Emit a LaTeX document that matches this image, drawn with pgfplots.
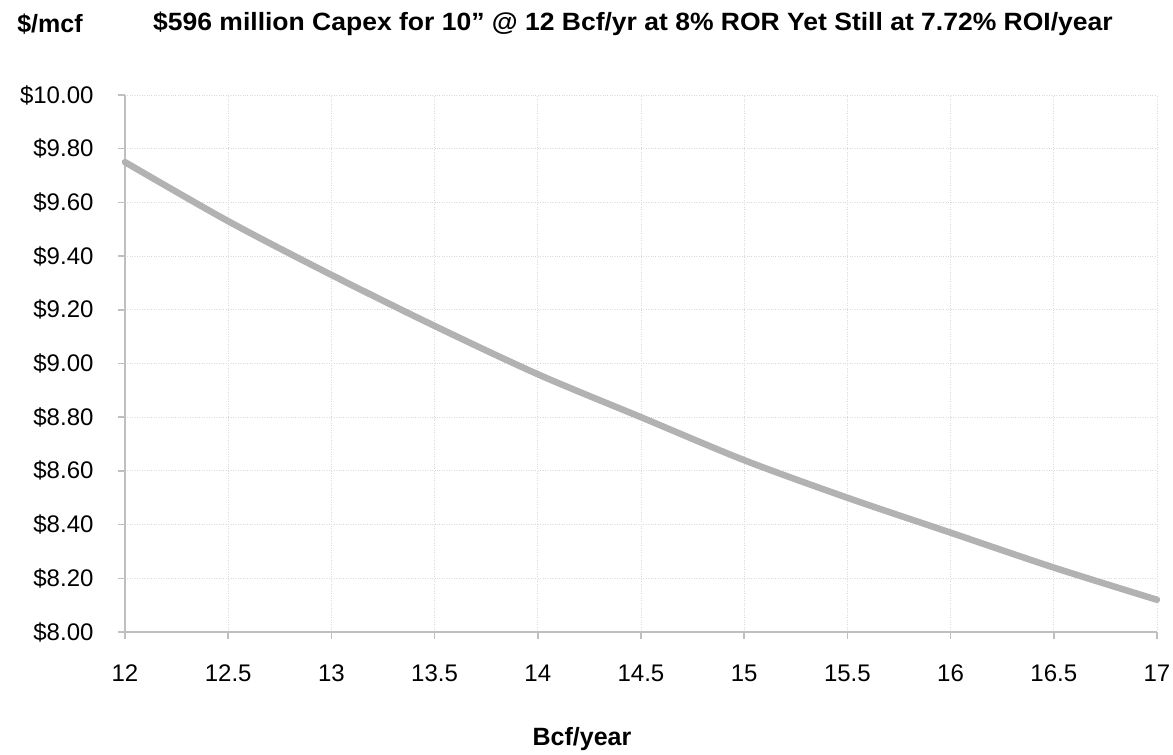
\documentclass[border=0pt]{standalone}
\usepackage{pgfplots}
\pgfplotsset{compat=1.18}
\usepackage{fontspec}
\setmainfont{Liberation Sans}
\definecolor{axgray}{HTML}{BFBFBF}
\definecolor{linegray}{HTML}{B2B2B2}
\definecolor{gridgray}{HTML}{DADADA}
\begin{document}
\begin{tikzpicture}[x=1pt,y=1pt]
\useasboundingbox (-125,-123) rectangle (1048,632);
\begin{axis}[
  at={(0,0)}, anchor=south west,
  scale only axis, width=1032pt, height=537pt,
  xmin=12, xmax=17, ymin=8, ymax=10,
  xtick={12,12.5,...,17}, ytick={8,8.2,...,10.01},
  axis x line*=bottom, axis y line*=left,
  axis line style={axgray, line width=2pt, -},
  tick style={axgray, line width=1.5pt},
  tick align=outside, major tick length=7pt,
  grid=major, grid style={gridgray, dotted, line width=0.8pt},
  ticklabel style={font=\fontsize{24}{28}\selectfont},
  /pgf/number format/assume math mode=true,
  yticklabel={\$\pgfmathprintnumber[fixed,fixed zerofill,precision=2]{\tick}},
  xticklabel={\pgfmathprintnumber[fixed]{\tick}},
  xticklabel style={yshift=-22pt},
  yticklabel style={xshift=-21pt},
  clip=false,
]
\addplot[linegray, line width=6.5pt, smooth, line cap=round] coordinates {
(12,9.75) (12.5,9.53) (13,9.33) (13.5,9.14) (14,8.96) (14.5,8.80)
(15,8.64) (15.5,8.50) (16,8.37) (16.5,8.24) (17,8.12)};
\end{axis}
\node[font=\bfseries\fontsize{25}{28}\selectfont] at (-75,608) {\$/mcf};
\node[font=\bfseries\fontsize{25}{28}\selectfont] at (508,608) {\scalebox{1.06}[1]{\$596 million Capex for 10” @ 12 Bcf/yr at 8\% ROR Yet Still at 7.72\% ROI/year}};
\node[font=\bfseries\fontsize{25}{28}\selectfont] at (457,-107) {Bcf/year};
\end{tikzpicture}
\end{document}
